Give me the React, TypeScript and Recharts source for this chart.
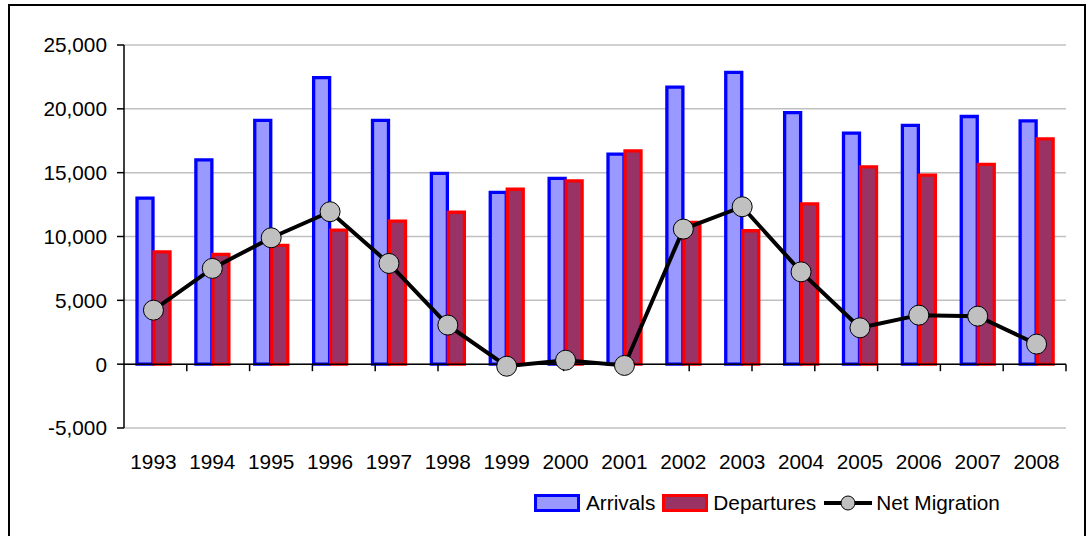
import React from 'react';
import { ComposedChart, Bar, Line, XAxis, YAxis, CartesianGrid, ReferenceLine, Legend } from 'recharts';

const years = ['1993','1994','1995','1996','1997','1998','1999','2000','2001','2002','2003','2004','2005','2006','2007','2008'];
const arrivals = [13000, 16000, 19100, 22450, 19100, 14950, 13450, 14550, 16450, 21700, 22850, 19700, 18100, 18700, 19400, 19050];
const departures = [8800, 8600, 9300, 10500, 11200, 11900, 13700, 14350, 16700, 11100, 10450, 12550, 15450, 14800, 15650, 17650];
const netMigration = [4230, 7500, 9900, 11940, 7890, 3060, -160, 310, -100, 10580, 12330, 7230, 2850, 3840, 3760, 1570];
const yTicks = [-5000, 0, 5000, 10000, 15000, 20000, 25000];
const boundaries = [1, 2, 3, 4, 5, 6, 7, 8, 9, 10, 11, 12, 13, 14, 15, 16];

const data = years.map((y, i) => ({
  year: y,
  arrivals: arrivals[i],
  departures: departures[i],
  net: netMigration[i],
}));

const FONT = '"Liberation Sans", Arial, sans-serif';
const FS = 20.8;

const fmt = (v: number) => v.toLocaleString('en-US');

const LegendContent = () => (
  <div style={{ display: 'flex', alignItems: 'center', fontFamily: FONT, fontSize: FS, color: '#000', whiteSpace: 'nowrap' }}>
    <svg width={46} height={18} style={{ marginRight: 6 }}>
      <rect x={1.5} y={1.5} width={43} height={15} fill="#9999FF" stroke="#0000FF" strokeWidth={3} />
    </svg>
    <span style={{ marginRight: 7 }}>Arrivals</span>
    <svg width={46} height={18} style={{ marginRight: 5 }}>
      <rect x={1.5} y={1.5} width={43} height={15} fill="#993366" stroke="#FF0000" strokeWidth={3} />
    </svg>
    <span style={{ marginRight: 8 }}>Departures</span>
    <svg width={48} height={18} style={{ marginRight: 4 }}>
      <line x1={0} y1={9} x2={48} y2={9} stroke="#000" strokeWidth={4} />
      <circle cx={24} cy={9} r={7} fill="#C0C0C0" stroke="#000" strokeWidth={1} />
    </svg>
    <span>Net Migration</span>
  </div>
);

export default function App() {
  return (
    <div style={{ position: 'absolute', left: 0, top: 0, width: 1092, height: 536, overflow: 'hidden', background: '#fff' }}>
      <div style={{ position: 'absolute', left: 8, top: 4, width: 1078, height: 600, border: '2px solid #000', boxSizing: 'border-box' }} />
      <div style={{ position: 'absolute', left: 0, top: 0 }}>
        <ComposedChart
          width={1092}
          height={536}
          data={data}
          margin={{ top: 45, right: 26, left: 0, bottom: 40 }}
          barSize={16}
          barGap={1}
          style={{ fontFamily: FONT }}
        >
          <CartesianGrid vertical={false} stroke="#C0C0C0" strokeWidth={1.5} />
          <XAxis
            dataKey="year"
            axisLine={false}
            tickLine={false}
            tickMargin={20}
            height={68}
            interval={0}
            tick={{ fill: '#000', fontSize: FS }}
          />
          <XAxis xAxisId="b" type="number" domain={[0, 16]} allowDataOverflow hide />
          <YAxis
            width={124}
            domain={[-5000, 25000]}
            ticks={yTicks}
            tickFormatter={fmt}
            tickSize={7}
            tickMargin={10}
            interval={0}
            axisLine={{ stroke: '#000', strokeWidth: 1.5 }}
            tickLine={{ stroke: '#000', strokeWidth: 1.5 }}
            tick={{ fill: '#000', fontSize: FS }}
          />
          <ReferenceLine xAxisId="b" x={16} stroke="#C0C0C0" strokeWidth={1.5} />
          <Bar dataKey="arrivals" name="Arrivals" fill="#9999FF" stroke="#0000FF" strokeWidth={3.3} isAnimationActive={false} />
          <Bar dataKey="departures" name="Departures" fill="#993366" stroke="#FF0000" strokeWidth={3.3} isAnimationActive={false} />
          <ReferenceLine y={0} stroke="#000" strokeWidth={1.5} />
          {boundaries.map((b) => (
            <ReferenceLine
              key={b}
              xAxisId="b"
              segment={[{ x: b, y: 0 }, { x: b, y: -550 }]}
              stroke="#000"
              strokeWidth={1.5}
            />
          ))}
          <Line
            dataKey="net"
            name="Net Migration"
            stroke="#000"
            strokeWidth={4}
            dot={{ r: 10, fill: '#C0C0C0', stroke: '#000', strokeWidth: 1 }}
            activeDot={false}
            isAnimationActive={false}
          />
          <Legend
            layout="horizontal"
            verticalAlign="middle"
            align="center"
            content={LegendContent}
            wrapperStyle={{ position: 'absolute', left: 534, top: 491, width: 'auto' }}
          />
        </ComposedChart>
      </div>
    </div>
  );
}
